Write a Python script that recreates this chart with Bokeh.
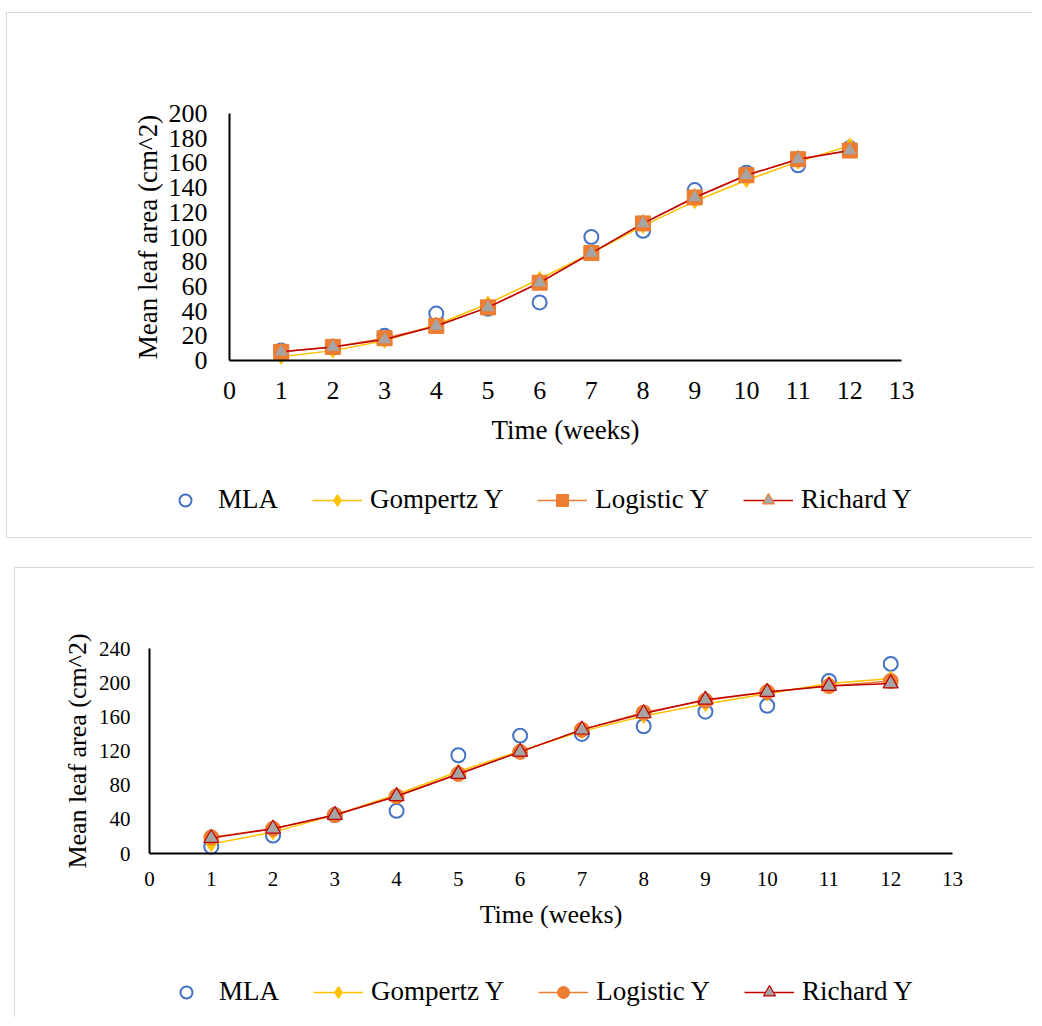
from bokeh.plotting import figure
from bokeh.models import Legend, LegendItem, SingleIntervalTicker, Range1d, Spacer
from bokeh.layouts import column, row
from bokeh.embed import file_html
from bokeh.resources import INLINE

weeks = [1, 2, 3, 4, 5, 6, 7, 8, 9, 10, 11, 12]

# Chart 1
c1_mla = [8, 11, 20, 38, 42, 47, 100, 105, 138, 152, 158, 172]
c1_gompertz = [3, 8, 16, 29, 46, 66, 87, 109, 129, 146, 161, 174]
c1_logistic = [7, 11, 18, 28, 43, 63, 87, 111, 132, 150, 163, 170]
c1_richard = [7, 11, 17, 28, 43, 63, 87, 111, 132, 150, 163, 170]

# Chart 2
c2_mla = [8, 21, 45, 50, 115, 138, 140, 149, 166, 173, 202, 222]
c2_gompertz = [11, 25, 45, 69, 96, 120, 143, 161, 175, 187, 199, 205]
c2_logistic = [19, 29, 45, 67, 93, 119, 145, 165, 179, 189, 196, 202]
c2_richard = [18, 29, 45, 67, 93, 119, 145, 164, 180, 189, 196, 199]

series_names = ["MLA", "Gompertz Y", "Logistic Y", "Richard Y"]
x_title = "Time (weeks)"
y_title = "Mean leaf area (cm^2)"
x_max = 13

FONT = "Liberation Serif"
BLUE = "#4472C4"
YELLOW = "#FFC000"
ORANGE = "#ED7D31"
RED = "#C00000"
GRAY = "#A5A5A5"


def make_chart(width, height, fx0, fx1, fy0, fy1, y_max, y_step, mla, gom, logi, rich,
               logistic_marker, tri_line, tick_size, title_size, legend_size,
               legend_loc, xstand, ystand, xtitle_stand, ytitle_stand, border_bottom):
    # fx0/fx1: canvas px of x=0 and x=x_max; fy0/fy1: canvas px (from top) of y=0 and y=y_max
    xs = (fx1 - fx0) / x_max
    ys = (fy0 - fy1) / y_max
    xr = Range1d(-fx0 / xs, x_max + (width - fx1) / xs)
    yr = Range1d(-(height - fy0) / ys, y_max + fy1 / ys)
    p = figure(width=width, height=height, output_backend="svg", toolbar_location=None,
               x_range=xr, y_range=yr,
               min_border_left=0, min_border_right=0, min_border_top=0,
               min_border_bottom=0)
    p.outline_line_color = None
    p.xgrid.visible = False
    p.ygrid.visible = False
    p.background_fill_color = "white"
    p.border_fill_color = "white"
    st = {"border-top": "1px solid #D9D9D9", "border-left": "1px solid #D9D9D9"}
    if border_bottom:
        st["border-bottom"] = "1px solid #D9D9D9"
    p.styles = st

    p.xaxis.ticker = SingleIntervalTicker(interval=1, num_minor_ticks=0)
    p.yaxis.ticker = SingleIntervalTicker(interval=y_step, num_minor_ticks=0)
    p.xaxis.bounds = (0, x_max)
    p.yaxis.bounds = (0, y_max)
    p.xaxis.fixed_location = 0
    p.yaxis.fixed_location = 0
    for ax in (p.xaxis, p.yaxis):
        ax.major_tick_line_color = None
        ax.minor_tick_line_color = None
        ax.major_tick_out = 0
        ax.major_tick_in = 0
        ax.axis_line_color = "black"
        ax.axis_line_width = 2
        ax.major_label_text_font = FONT
        ax.major_label_text_font_size = f"{tick_size}px"
        ax.major_label_text_color = "black"
        ax.axis_label_text_font = FONT
        ax.axis_label_text_font_size = f"{title_size}px"
        ax.axis_label_text_font_style = "normal"
        ax.axis_label_text_color = "black"
    p.xaxis.axis_label = x_title
    p.yaxis.axis_label = y_title
    p.xaxis.major_label_standoff = xstand
    p.yaxis.major_label_standoff = ystand
    p.xaxis.axis_label_standoff = xtitle_stand
    p.yaxis.axis_label_standoff = ytitle_stand

    r_mla = p.scatter(weeks, mla, marker="circle", size=14, fill_color=None,
                      line_color=BLUE, line_width=2)
    l_gom = p.line(weeks, gom, line_color=YELLOW, line_width=1.5)
    s_gom = p.scatter(weeks, gom, marker="diamond", size=15, fill_color=YELLOW,
                      line_color=YELLOW)
    l_log = p.line(weeks, logi, line_color=ORANGE, line_width=1.5)
    s_log = p.scatter(weeks, logi, marker=logistic_marker, size=15, fill_color=ORANGE,
                      line_color=ORANGE)
    l_ric = p.line(weeks, rich, line_color=RED, line_width=1.5)
    s_ric = p.scatter(weeks, rich, marker="triangle", size=15, fill_color=GRAY,
                      line_color=tri_line, line_width=1.2)

    legend = Legend(items=[
        LegendItem(label=series_names[0], renderers=[r_mla]),
        LegendItem(label=series_names[1], renderers=[l_gom, s_gom]),
        LegendItem(label=series_names[2], renderers=[l_log, s_log]),
        LegendItem(label=series_names[3], renderers=[l_ric, s_ric]),
    ], orientation="horizontal", location=legend_loc)
    legend.glyph_width = 50
    legend.glyph_height = 30
    legend.label_height = 30
    legend.label_standoff = 8
    legend.spacing = 34
    legend.padding = 0
    legend.margin = 0
    legend.border_line_color = None
    legend.background_fill_alpha = 0
    legend.label_text_font = FONT
    legend.label_text_font_size = f"{legend_size}px"
    legend.label_text_color = "black"
    p.add_layout(legend, "center")
    return p


p1 = make_chart(1026, 526, 222, 894, 347, 100, 200, 20,
                c1_mla, c1_gompertz, c1_logistic, c1_richard,
                "square", ORANGE, 26, 27, 27, (153, 24), 21, 22, 13, 3, True)
p2 = make_chart(1020, 450, 134, 937, 285, 80, 240, 40,
                c2_mla, c2_gompertz, c2_logistic, c2_richard,
                "circle", RED, 21, 26, 27, (146, 11), 18, 19, 11, 4, False)

layout = column(Spacer(height=12),
                row(Spacer(width=6), p1),
                Spacer(height=29),
                row(Spacer(width=14), p2))
open("out.html", "w").write(file_html(layout, INLINE))
